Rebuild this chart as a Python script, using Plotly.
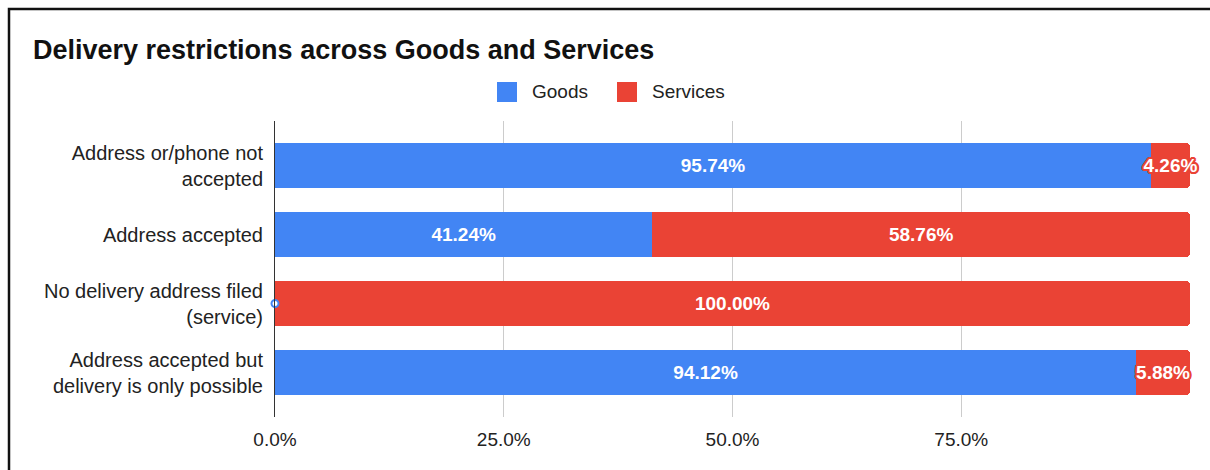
import plotly.graph_objects as go

# ---- data ----
categories = [
    "Address or/phone not<br>accepted",
    "Address accepted",
    "No delivery address filed<br>(service)",
    "Address accepted but<br>delivery is only possible",
]
series_names = ["Goods", "Services"]
goods = [0.9574, 0.4124, 0.0, 0.9412]
services = [0.0426, 0.5876, 1.0, 0.0588]
x_tick_vals = [0, 0.25, 0.5, 0.75, 1.0]
x_tick_text = ["0.0%", "25.0%", "50.0%", "75.0%", ""]

# ---- style ----
W, H = 1210, 470
L, R, T, B = 275, 20, 121, 53
BLUE = "#4285F4"
RED = "#EA4335"
FONT = "Arial, Liberation Sans, sans-serif"
TXT = "#222222"


def px2x(px):
    return (px - L) / (W - L - R)


def py2y(py):
    return (H - B - py) / (H - T - B)


def pct_labels(vals):
    return [f"{v:.2%}" if v > 0 else "" for v in vals]


# halo around white labels so they stay legible where they spill over the blue bar
red_outline = ", ".join(
    f"{dx}px {dy}px 0 {RED}"
    for dx, dy in [(2, 0), (-2, 0), (0, 2), (0, -2), (1, 1), (-1, -1), (1, -1), (-1, 1),
                   (2, 1), (-2, 1), (2, -1), (-2, -1), (1, 2), (-1, 2), (1, -2), (-1, -2)]
)

fig = go.Figure()
fig.add_trace(go.Bar(
    name=series_names[0], y=categories, x=goods, orientation="h",
    marker=dict(color=BLUE, line=dict(width=0)),
    text=pct_labels(goods), textposition="inside", insidetextanchor="middle",
    textangle=0, constraintext="none", cliponaxis=False,
    textfont=dict(family=FONT, size=19, color="white", weight="bold"),
    showlegend=False, hoverinfo="skip",
))
fig.add_trace(go.Bar(
    name=series_names[1], y=categories, x=services, orientation="h",
    marker=dict(color=RED, line=dict(width=0)),
    text=pct_labels(services), textposition="inside", insidetextanchor="middle",
    textangle=0, constraintext="none", cliponaxis=False,
    textfont=dict(family=FONT, size=19, color="white", weight="bold", shadow=red_outline),
    showlegend=False, hoverinfo="skip",
))
# zero-length Goods bar marker
zero_rows = [i for i, v in enumerate(goods) if v == 0]
fig.add_trace(go.Scatter(
    x=[goods[i] for i in zero_rows], y=[categories[i] for i in zero_rows],
    mode="markers", cliponaxis=False, showlegend=False, hoverinfo="skip",
    marker=dict(symbol="circle", size=7, color="white", line=dict(width=2, color=BLUE)),
))

# manual legend (larger swatches)
shapes = []
annotations = []
legend_items = [(497, series_names[0], BLUE), (617, series_names[1], RED)]
for sx, name, col in legend_items:
    shapes.append(dict(
        type="rect", xref="paper", yref="paper",
        x0=px2x(sx), x1=px2x(sx + 20), y0=py2y(102), y1=py2y(82),
        fillcolor=col, line=dict(width=0),
    ))
    annotations.append(dict(
        text=name, xref="paper", yref="paper", x=px2x(sx + 33), y=py2y(92),
        xanchor="left", yanchor="middle", showarrow=False,
        font=dict(family=FONT, size=19, color=TXT),
    ))

# outer frame
shapes.append(dict(
    type="rect", xref="paper", yref="paper",
    x0=px2x(9), x1=px2x(W + 20), y0=py2y(H + 20), y1=py2y(9),
    line=dict(color="#111111", width=2.5), fillcolor="rgba(0,0,0,0)", layer="above",
))

fig.update_layout(
    width=W, height=H,
    margin=dict(l=L, r=R, t=T, b=B, autoexpand=False),
    paper_bgcolor="white", plot_bgcolor="white",
    barmode="stack", bargap=0.36, barcornerradius=3,
    showlegend=False,
    title=dict(
        text="<b>Delivery restrictions across Goods and Services</b>",
        x=33 / W, xanchor="left", xref="container",
        y=1 - 50 / H, yanchor="middle", yref="container",
        font=dict(family=FONT, size=27, color="#111111"),
    ),
    xaxis=dict(
        range=[0, 1.0], tickvals=x_tick_vals, ticktext=x_tick_text,
        showgrid=True, gridcolor="#CCCCCC", gridwidth=1,
        zeroline=False, showline=False, ticks="",
        ticklabelstandoff=9,
        tickfont=dict(family=FONT, size=19, color=TXT),
    ),
    yaxis=dict(
        type="category", categoryorder="array", categoryarray=categories,
        range=[3.645, -0.645],
        showgrid=False, zeroline=False,
        showline=True, linecolor="#333333", linewidth=1,
        ticks="", ticklabelstandoff=7,
        tickfont=dict(family=FONT, size=20, color=TXT),
    ),
    shapes=shapes, annotations=annotations,
)

fig.write_html("out.html")
